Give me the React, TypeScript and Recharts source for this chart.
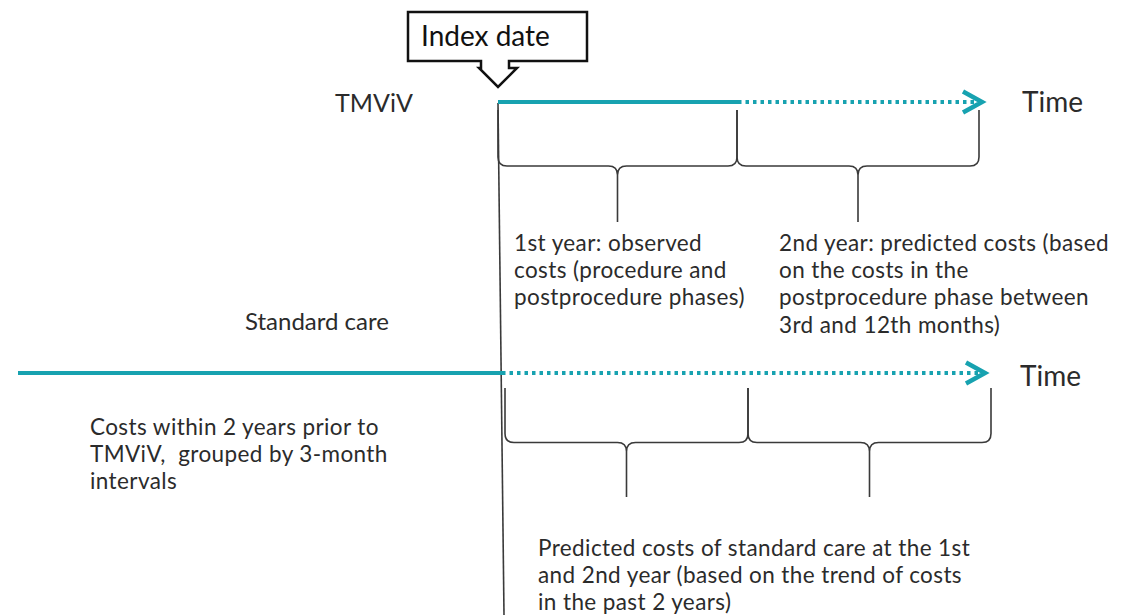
import React from "react";
import {
  ComposedChart,
  XAxis,
  YAxis,
  ReferenceArea,
  ReferenceLine,
  ReferenceDot,
  Customized,
} from "recharts";

// timeline in months, index date = month 0
const TMVIV_OBSERVED = [0, 12];
const TMVIV_PREDICTED = [12, 24.2];
const STANDARD_OBSERVED = [-24, 0.2];
const STANDARD_PREDICTED = [0.2, 24.35];
const TMVIV_BRACES = [
  [0, 11.95],
  [11.95, 24.05],
];
const STANDARD_BRACES = [
  [0.35, 12.5],
  [12.5, 24.65],
];

const FIRST_YEAR_NOTE = ["1st year: observed", "costs (procedure and", "postprocedure phases)"];
const SECOND_YEAR_NOTE = [
  "2nd year: predicted costs (based",
  "on the costs in the",
  "postprocedure phase between",
  "3rd and 12th months)",
];
const PRIOR_NOTE = ["Costs within 2 years prior to", "TMViV,  grouped by 3-month", "intervals"];
const STANDARD_NOTE = [
  "Predicted costs of standard care at the 1st",
  "and 2nd year (based on the trend of costs",
  "in the past 2 years)",
];

const W = 1136;
const H = 615;
const TEAL = "#17a2b0";
const INK = "#2b2b2b";
const FONT = "Lato, 'Open Sans', sans-serif";

const TM_Y = 102;
const SC_Y = 373;

const Chevron = (props: any) => {
  const { cx, cy } = props;
  return (
    <polyline
      points={`${cx - 19},${cy - 10.5} ${cx},${cy} ${cx - 19},${cy + 10.5}`}
      fill="none"
      stroke={TEAL}
      strokeWidth={4.5}
    />
  );
};

const Brace = (props: any) => {
  const { x, y, width, height } = props;
  const r = 9;
  const mid = y + height * 0.5;
  const cx = x + width / 2;
  const x2 = x + width;
  const d = [
    `M ${x} ${y} L ${x} ${mid - r} Q ${x} ${mid} ${x + r} ${mid}`,
    `L ${cx - r} ${mid} Q ${cx} ${mid} ${cx} ${mid + r} L ${cx} ${y + height}`,
    `M ${cx} ${mid + r} Q ${cx} ${mid} ${cx + r} ${mid}`,
    `L ${x2 - r} ${mid} Q ${x2} ${mid} ${x2} ${mid - r} L ${x2} ${y}`,
  ].join(" ");
  return <path d={d} fill="none" stroke="#3a3a3a" strokeWidth={1.6} />;
};

const Callout = (props: any) => {
  const { cx } = props;
  const d = [
    `M ${cx - 17} 61 L ${cx - 90} 61 L ${cx - 90} 12 L ${cx + 89} 12 L ${cx + 89} 61 L ${cx + 11} 61`,
    `L ${cx + 11} 68 L ${cx + 19} 68 L ${cx} 87 L ${cx - 19} 68 L ${cx - 17} 68 Z`,
  ].join(" ");
  return (
    <g>
      <path d={d} fill="#fff" stroke="#111" strokeWidth={2.5} strokeLinejoin="miter" />
      <text x={cx - 77} y={46} fontSize={28} fontFamily={FONT} fill="#111">
        Index date
      </text>
    </g>
  );
};

const Lines = ({ lines, x, y, size, gap }: { lines: string[]; x: number; y: number; size: number; gap: number }) => (
  <text
    x={x}
    y={y}
    fontSize={size}
    fontFamily={FONT}
    fill={INK}
    letterSpacing={size < 23 ? 0.4 : 0}
    style={{ whiteSpace: "pre" }}
  >
    {lines.map((t, i) => (
      <tspan key={i} x={x} dy={i === 0 ? 0 : gap}>
        {t}
      </tspan>
    ))}
  </text>
);

const Labels = () => (
  <g>
    <Lines lines={["TMViV"]} x={335} y={112} size={25} gap={0} />
    <Lines lines={["Time"]} x={1022} y={112} size={28} gap={0} />
    <Lines lines={["Standard care"]} x={245} y={330} size={24} gap={0} />
    <Lines lines={["Time"]} x={1020} y={386} size={28} gap={0} />
    <Lines lines={FIRST_YEAR_NOTE} x={514} y={251} size={22.5} gap={27.2} />
    <Lines lines={SECOND_YEAR_NOTE} x={779} y={251} size={22.5} gap={27.2} />
    <Lines lines={PRIOR_NOTE} x={90} y={435} size={22.5} gap={27.2} />
    <Lines lines={STANDARD_NOTE} x={538} y={556} size={22.5} gap={27.2} />
  </g>
);

const segment = (months: number[], y: number) => months.map((m) => ({ x: m, y }));

export default function App() {
  return (
    <div style={{ position: "absolute", left: 0, top: 0, width: W, height: H, background: "#fff" }}>
      <ComposedChart width={W} height={H} margin={{ top: 0, right: 0, bottom: 0, left: 0 }}>
        <XAxis type="number" dataKey="month" domain={[-24.9, 31.9]} allowDataOverflow hide />
        <YAxis type="number" dataKey="level" domain={[0, H]} reversed allowDataOverflow hide />
        <ReferenceLine
          segment={[
            { x: 0, y: 103 },
            { x: 0.3, y: H },
          ]}
          stroke="#3a3a3a"
          strokeWidth={1.6}
          ifOverflow="visible"
        />
        {TMVIV_BRACES.map(([a, b], i) => (
          <ReferenceArea key={`tb${i}`} x1={a} x2={b} y1={110} y2={222} shape={Brace} ifOverflow="visible" />
        ))}
        {STANDARD_BRACES.map(([a, b], i) => (
          <ReferenceArea key={`sb${i}`} x1={a} x2={b} y1={388} y2={497} shape={Brace} ifOverflow="visible" />
        ))}
        <ReferenceLine segment={segment(TMVIV_OBSERVED, TM_Y)} stroke={TEAL} strokeWidth={4} ifOverflow="visible" />
        <ReferenceLine
          segment={segment(TMVIV_PREDICTED, TM_Y)}
          stroke={TEAL}
          strokeWidth={4}
          strokeDasharray="3.5 4"
          ifOverflow="visible"
        />
        <ReferenceLine segment={segment(STANDARD_OBSERVED, SC_Y)} stroke={TEAL} strokeWidth={4} ifOverflow="visible" />
        <ReferenceLine
          segment={segment(STANDARD_PREDICTED, SC_Y)}
          stroke={TEAL}
          strokeWidth={4}
          strokeDasharray="3.5 4"
          ifOverflow="visible"
        />
        <ReferenceDot x={TMVIV_PREDICTED[1]} y={TM_Y} r={0} shape={Chevron} ifOverflow="visible" />
        <ReferenceDot x={STANDARD_PREDICTED[1]} y={SC_Y} r={0} shape={Chevron} ifOverflow="visible" />
        <ReferenceDot x={0} y={87} r={0} shape={Callout} ifOverflow="visible" />
        <Customized component={Labels} />
      </ComposedChart>
    </div>
  );
}
